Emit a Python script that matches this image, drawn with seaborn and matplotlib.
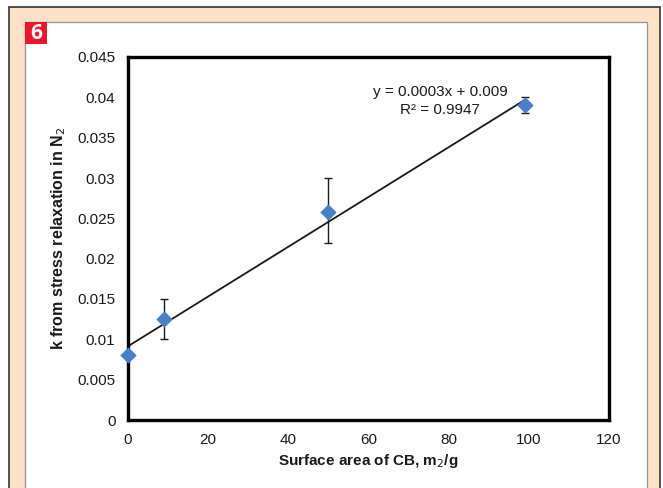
import matplotlib
matplotlib.use("Agg")
import matplotlib.pyplot as plt
from matplotlib.patches import Rectangle
import numpy as np
import pandas as pd
import seaborn as sns

# Data
surface_area = [0, 9, 50, 99]
k_values = [0.008, 0.0125, 0.0258, 0.039]
err_low = [0.0, 0.0025, 0.0038, 0.001]
err_high = [0.0, 0.0025, 0.0042, 0.001]
x_ticks = [0, 20, 40, 60, 80, 100, 120]
y_ticks = [0, 0.005, 0.01, 0.015, 0.02, 0.025, 0.03, 0.035, 0.04, 0.045]
y_tick_labels = ["0", "0.005", "0.01", "0.015", "0.02", "0.025", "0.03", "0.035", "0.04", "0.045"]
equation_text = "y = 0.0003x + 0.009"
r2_text = "R² = 0.9947"
panel_number = "6"

df = pd.DataFrame({"x": surface_area, "k": k_values})

sns.set_theme(style="white")
plt.rcParams["font.family"] = ["Liberation Sans", "DejaVu Sans"]

W, H = 663, 488
fig = plt.figure(figsize=(W / 100, H / 100), dpi=100)
fig.patch.set_facecolor("white")

def fx(px):
    return px / W

def fy(py):
    return 1 - py / H

# Outer peach frame
fig.patches.append(Rectangle((fx(9), fy(495)), fx(660) - fx(9), fy(7) - fy(495),
                             transform=fig.transFigure, facecolor="#FDE2CA",
                             edgecolor="#333333", linewidth=1.2, zorder=-3))
# Inner white panel
fig.patches.append(Rectangle((fx(25), fy(495)), fx(647) - fx(25), fy(22) - fy(495),
                             transform=fig.transFigure, facecolor="white",
                             edgecolor="#9a9a9a", linewidth=1.0, zorder=-2))
# Red number box
fig.patches.append(Rectangle((fx(25), fy(44)), fx(47) - fx(25), fy(22) - fy(44),
                             transform=fig.transFigure, facecolor="#E8192C",
                             edgecolor="none", zorder=-1))
fig.text(fx(36), fy(33.5), panel_number, color="white", fontsize=15, fontweight="bold",
         ha="center", va="center", family=["Open Sans", "DejaVu Sans"])

ax = fig.add_axes([fx(128), fy(420), fx(609) - fx(128), fy(57) - fy(420)])
ax.set_facecolor("white")

# Trend line
sns.regplot(data=df, x="x", y="k", scatter=False, ci=None, truncate=True, ax=ax,
            line_kws={"color": "#1a1a1a", "linewidth": 1.3})

# Error bars
ax.errorbar(surface_area, k_values, yerr=[err_low, err_high], fmt="none",
            ecolor="#1a1a1a", elinewidth=1.0, capsize=3.2, capthick=1.0, zorder=3)

# Markers
sns.scatterplot(data=df, x="x", y="k", marker="D", s=70, color="#4A7EC7",
                edgecolor="#4A7EC7", linewidth=0, ax=ax, zorder=4, clip_on=False)

ax.set_xlim(0, 120)
ax.set_ylim(0, 0.045)
ax.set_xticks(x_ticks)
ax.set_yticks(y_ticks)
ax.set_yticklabels(y_tick_labels)
ax.tick_params(axis="both", direction="in", length=4, width=1, color="#222222",
               labelsize=11, labelcolor="#1a1a1a", pad=9)
ax.tick_params(axis="x", pad=9)
for sp in ax.spines.values():
    sp.set_visible(True)
    sp.set_color("black")
    sp.set_linewidth(2.4)

ax.set_xlabel("Surface area of CB, m$_2$/g", fontsize=11, fontweight="bold",
              color="#1a1a1a", labelpad=4)
ax.set_ylabel("k from stress relaxation in N$_2$", fontsize=11.5, fontweight="bold",
              color="#1a1a1a", labelpad=7)

ax.text(0.649, 0.904, equation_text, transform=ax.transAxes, ha="center", va="center",
        fontsize=11, color="#1a1a1a")
ax.text(0.649, 0.855, r2_text, transform=ax.transAxes, ha="center", va="center",
        fontsize=11, color="#1a1a1a")

fig.savefig("out.png", dpi=100)
